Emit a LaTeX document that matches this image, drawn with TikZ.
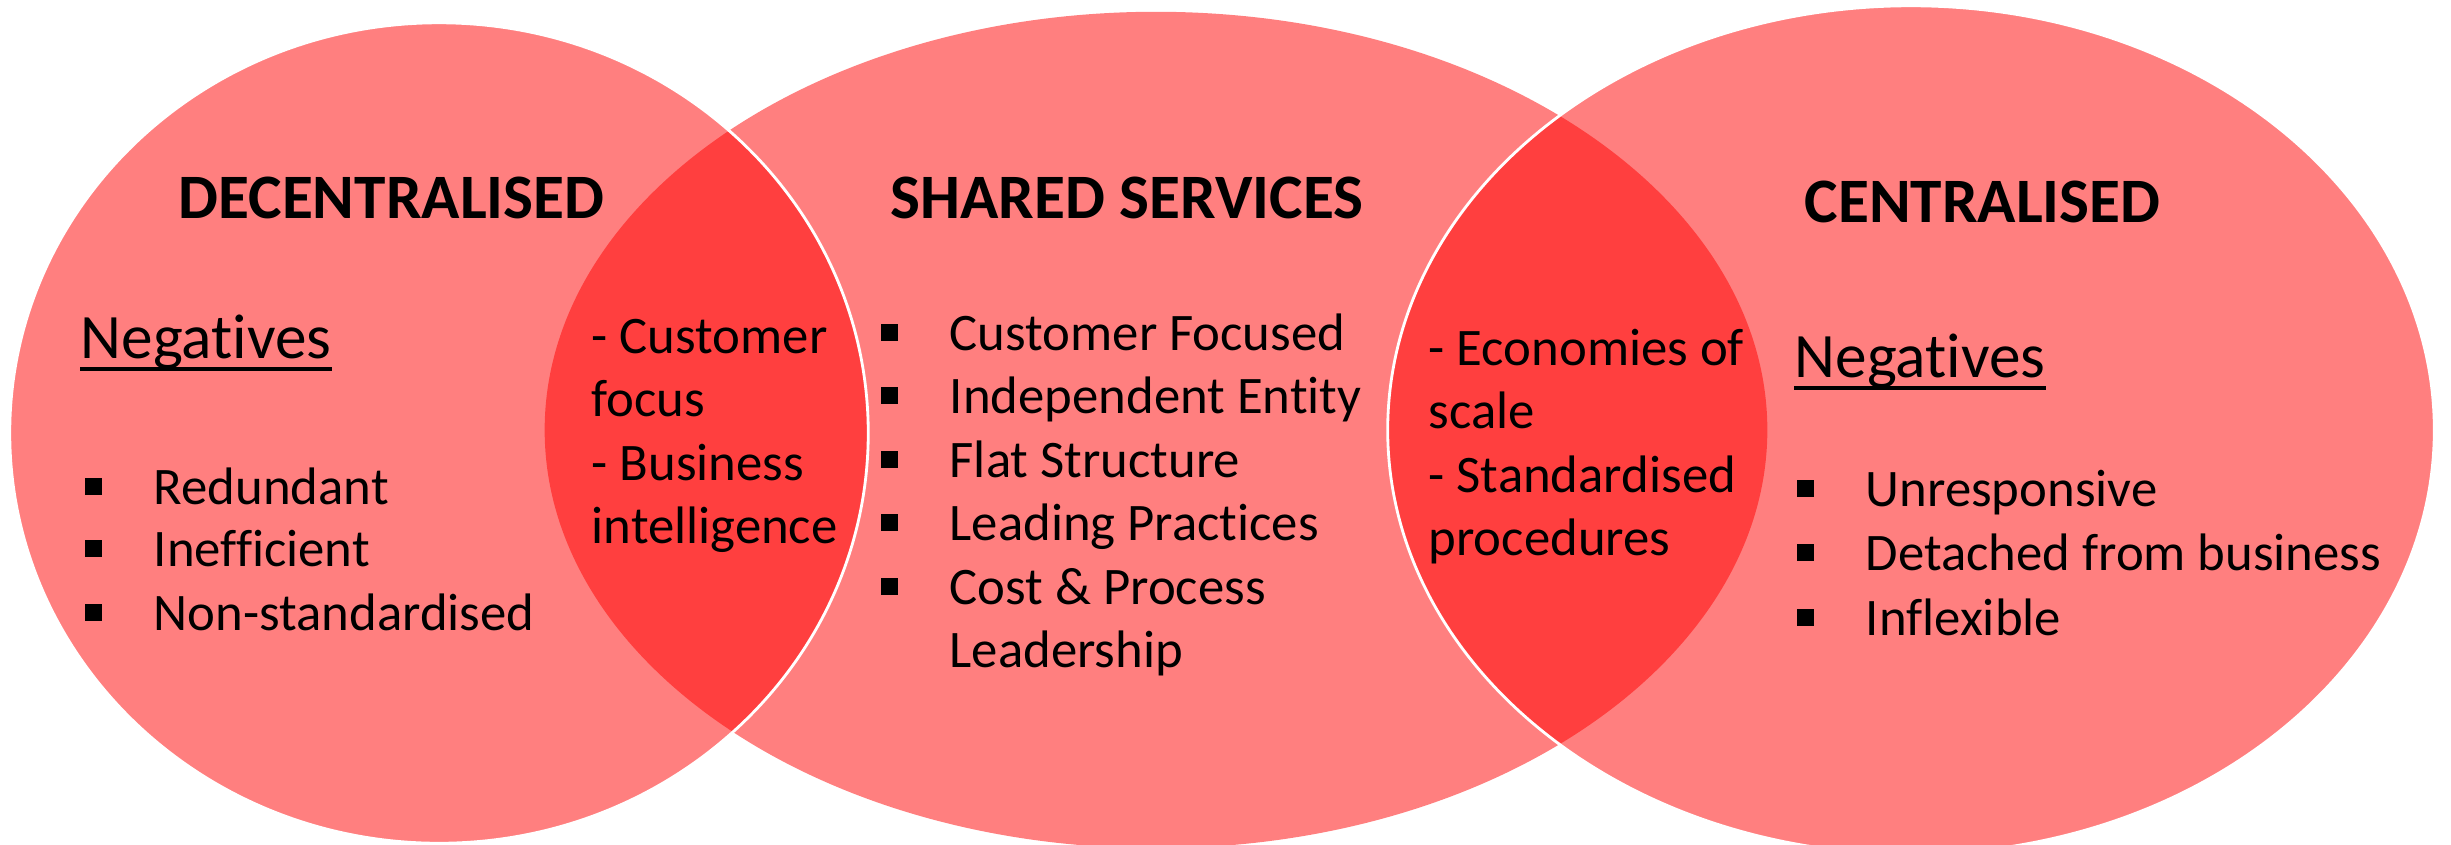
\documentclass[tikz,border=0pt]{standalone}
\usepackage{fontspec}
\setmainfont[Ligatures=NoCommon]{Carlito}
\newcommand{\sqb}{\makebox[0.69cm][l]{\rule[0.18em]{0.32em}{0.32em}}}

\begin{document}
\begin{tikzpicture}[x=0.01cm,y=-0.01cm,
  setfill/.style={fill=red,fill opacity=0.5},
  setline/.style={setfill,draw=white,line width=0.8pt},
  head/.style={anchor=base west,inner sep=0pt,font=\fontsize{18}{21}\selectfont\bfseries},
  negtext/.style={anchor=base west,inner sep=0pt,font=\fontsize{18}{21}\selectfont},
  txt/.style={anchor=base west,inner sep=0pt,font=\fontsize{15}{18}\selectfont}]
\useasboundingbox (0,0) rectangle (2451,844);
\fill[setfill](1156,430) ellipse [x radius=6.11cm,y radius=4.18cm];
\filldraw[setline](439,433) ellipse [x radius=4.29cm,y radius=4.10cm];
\filldraw[setline](1911,430) ellipse [x radius=5.23cm,y radius=4.24cm];

\node[head](dec) at(178,218){DECENTRALISED};
\node[head](shs) at(890,218){SHARED SERVICES};
\node[head](cen) at(1804,222){CENTRALISED};

\node[negtext](negl) at(80,358){Negatives};
\draw[line width=1pt]([yshift=-0.11cm]negl.base west)--([yshift=-0.11cm]negl.base east);
\node[txt](l1) at(84,504){\sqb Redundant};
\node[txt](l2) at(84,566){\sqb Inefficient};
\node[txt](l3) at(84,630){\sqb Non-standardised};

\node[txt](a1) at(591,353){- Customer};
\node[txt](a2) at(591,416){focus};
\node[txt](a3) at(591,480){- Business};
\node[txt](a4) at(591,543){intelligence};

\node[txt](m1) at(880,350){\sqb Customer Focused};
\node[txt](m2) at(880,413){\sqb Independent Entity};
\node[txt](m3) at(880,477){\sqb Flat Structure};
\node[txt](m4) at(880,540){\sqb Leading Practices};
\node[txt](m5) at(880,604){\sqb Cost \& Process};
\node[txt](m6) at(949,667){Leadership};

\node[txt](b1) at(1428,365){- Economies of};
\node[txt](b2) at(1428,428){scale};
\node[txt](b3) at(1428,492){- Standardised};
\node[txt](b4) at(1428,555){procedures};

\node[negtext](negr) at(1794,377){Negatives};
\draw[line width=1pt]([yshift=-0.11cm]negr.base west)--([yshift=-0.11cm]negr.base east);
\node[txt](r1) at(1796,506){\sqb Unresponsive};
\node[txt](r2) at(1796,570){\sqb Detached from business};
\node[txt](r3) at(1796,635){\sqb Inflexible};
\end{tikzpicture}
\end{document}
